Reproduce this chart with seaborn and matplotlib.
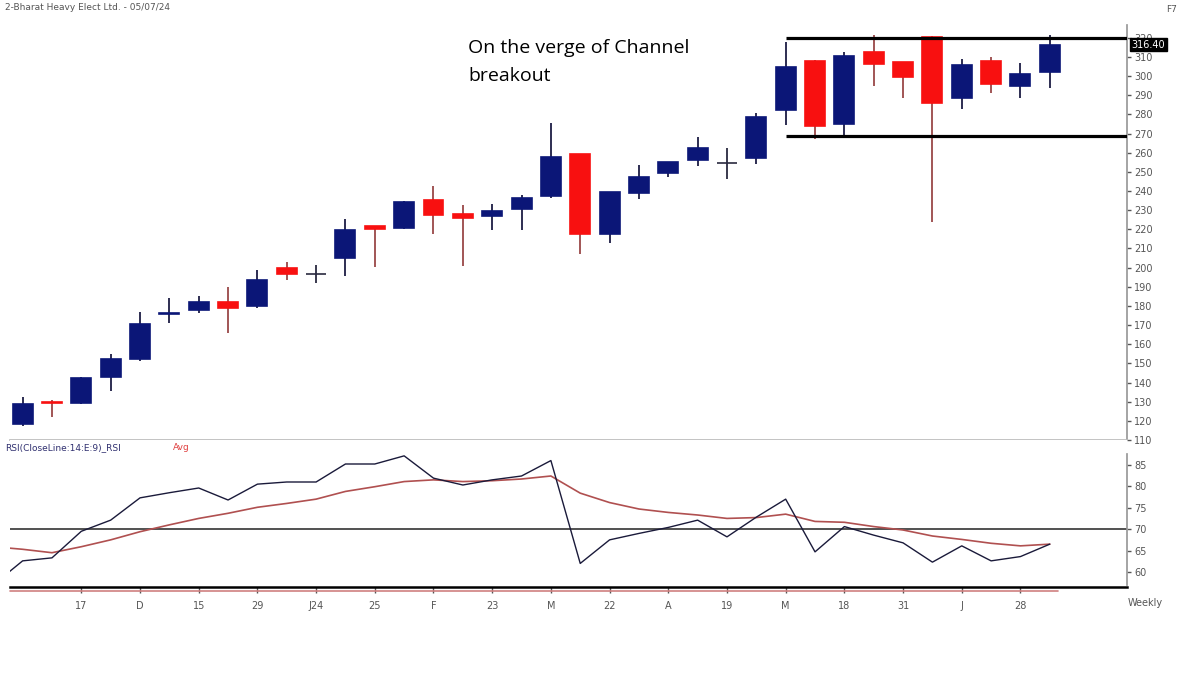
import numpy as np
import pandas as pd
import seaborn as sns
import matplotlib.pyplot as plt

# weekly OHLC, BHEL, Nov 2023 - 05/07/24
opens = [118.4, 130.0, 129.3, 142.7, 152.3, 175.8, 177.9, 181.9, 180.0, 199.8,
         196.5, 204.9, 221.7, 220.9, 235.3, 227.9, 227.1, 230.5, 237.4, 259.4,
         217.6, 239.1, 249.6, 256.2, 254.5, 257.4, 282.3, 308.1, 275.0, 312.5,
         307.2, 320.6, 288.8, 308.1, 294.9, 302.3]
highs = [132.5, 130.9, 143.0, 155.0, 176.7, 184.2, 185.4, 190.0, 198.8, 203.0,
         201.4, 225.4, 221.7, 235.0, 242.6, 232.7, 233.1, 237.9, 275.4, 259.4,
         239.5, 253.6, 255.2, 268.4, 262.6, 280.9, 318.0, 308.4, 312.5, 321.5,
         307.4, 321.0, 308.8, 310.2, 307.0, 321.5]
lows = [117.3, 122.0, 129.0, 135.6, 151.3, 171.0, 176.2, 165.7, 179.0, 193.6,
        191.8, 195.8, 200.5, 220.0, 217.4, 201.0, 219.7, 219.7, 236.5, 207.1,
        213.0, 235.7, 247.2, 253.1, 246.1, 254.1, 274.5, 267.2, 269.3, 295.0,
        288.8, 224.0, 282.7, 291.4, 288.8, 293.6]
closes = [128.8, 129.5, 142.4, 152.5, 170.6, 176.5, 181.9, 179.0, 193.6, 196.7,
          196.5, 219.7, 220.0, 234.1, 227.5, 226.1, 229.6, 236.2, 258.0, 217.4,
          239.3, 247.5, 255.0, 262.6, 254.5, 278.8, 304.9, 274.1, 310.5, 306.2,
          299.4, 285.8, 305.8, 295.9, 301.0, 316.4]

# RSI(14) and its 9-period average, first value is the week before the window
rsi = [57.0, 62.6, 63.3, 69.5, 72.1, 77.3, 78.5, 79.6, 76.8, 80.5, 81.0, 81.0,
       85.2, 85.2, 87.1, 81.9, 80.3, 81.5, 82.4, 86.0, 62.0, 67.5, 69.0, 70.4,
       72.1, 68.2, 72.8, 77.0, 64.7, 70.6, 68.6, 66.8, 62.3, 66.1, 62.6, 63.6, 66.5]
rsi_avg = [65.9, 65.3, 64.5, 65.9, 67.5, 69.4, 71.0, 72.5, 73.7, 75.1, 76.0, 77.0,
           78.8, 79.9, 81.1, 81.5, 81.1, 81.3, 81.7, 82.4, 78.4, 76.2, 74.7, 73.9,
           73.3, 72.5, 72.7, 73.5, 71.8, 71.6, 70.6, 69.8, 68.4, 67.6, 66.7, 66.1, 66.5]

week_labels = ["17", "D", "15", "29", "J24", "25", "F", "23", "M", "22", "A",
               "19", "M", "18", "31", "J", "28"]
label_pos = list(range(2, 36, 2))

channel_levels = [319.8, 268.8]
channel_start = 26
last_close = 316.40

W, H = 1198, 675
sns.set_theme(style="white")
plt.rcParams['font.family'] = ['DejaVu Sans']

df = pd.DataFrame({"o": opens, "h": highs, "l": lows, "c": closes})
df["idx"] = np.arange(len(df))
navy, red = "#0b1677", "#f81010"
df["body"] = np.where(df.c > df.o, navy, np.where(df.c < df.o, red, "#2a2a40"))
df["wick"] = np.where(df.c > df.o, "#1c1c44", np.where(df.c < df.o, "#9a4848", "#2a2a40"))

rsi_df = pd.DataFrame({"idx": np.arange(-1, len(rsi) - 1), "rsi": rsi, "avg": rsi_avg})

fig = plt.figure(figsize=(W / 100, H / 100), dpi=100)
fig.patch.set_facecolor("white")
ax_p = fig.add_axes([10 / W, 1 - 440 / H, (1127 - 10) / W, (440 - 25) / H])
ax_r = fig.add_axes([10 / W, 1 - 587 / H, (1127 - 10) / W, (587 - 440) / H])

xmin, xmax = -0.43, 37.63

# candles
ax_p.vlines(df.idx, df.l, df.h, colors=df.wick, linewidth=1.3, zorder=2)
ax_p.bar(df.idx, (df.c - df.o).abs(), bottom=df[["o", "c"]].min(axis=1), width=0.68,
         color=df.body, edgecolor=df.body, linewidth=1.2, zorder=3)
ax_p.hlines(channel_levels, channel_start, xmax, colors="black", linewidth=2.3, zorder=4)

ax_p.set_xlim(xmin, xmax)
ax_p.set_ylim(110, 326.7)
ax_p.set_xticks([])
ax_p.yaxis.tick_right()
ax_p.set_yticks(np.arange(110, 321, 10))
ax_p.tick_params(axis="y", direction="out", length=3, width=1, colors="#555555",
                 labelsize=7, pad=2, right=True)
for s in ["top", "left"]:
    ax_p.spines[s].set_visible(False)
ax_p.spines["right"].set_color("#999999")
ax_p.spines["bottom"].set_color("#bbbbbb")
ax_p.text(1.004, last_close, "316.40", transform=ax_p.get_yaxis_transform(),
          ha="left", va="center", fontsize=7, color="white", zorder=10, clip_on=False,
          bbox=dict(boxstyle="square,pad=0.15", facecolor="black", edgecolor="black"))

# RSI panel
sns.lineplot(data=rsi_df, x="idx", y="avg", ax=ax_r, color="#b05050", linewidth=1.2)
sns.lineplot(data=rsi_df, x="idx", y="rsi", ax=ax_r, color="#1a1a3a", linewidth=1.0)
ax_r.axhline(70, color="#333333", linewidth=1.2, zorder=0)
ax_r.set_xlim(xmin, xmax)
ax_r.set_ylim(56.5, 90.8)
ax_r.set_xlabel("")
ax_r.set_ylabel("")
ax_r.yaxis.tick_right()
ax_r.set_yticks([60, 65, 70, 75, 80, 85])
ax_r.tick_params(axis="y", direction="out", length=3, width=1, colors="#555555",
                 labelsize=7, pad=2, right=True)
ax_r.set_xticks(label_pos)
ax_r.set_xticklabels(week_labels)
ax_r.tick_params(axis="x", direction="out", length=4, width=1, colors="#555555",
                 labelsize=7, pad=6, bottom=True)
for s in ["top", "left"]:
    ax_r.spines[s].set_visible(False)
ax_r.spines["right"].set_color("#999999")
ax_r.spines["right"].set_bounds(57, 87.5)
ax_r.spines["bottom"].set_color("black")
ax_r.spines["bottom"].set_linewidth(1.8)
ax_r.plot([0, 0.938], [-0.025, -0.025], transform=ax_r.transAxes, color="#d08080",
          linewidth=1.2, clip_on=False)

# texts
fig.text(5 / W, 1 - 8 / H, "2-Bharat Heavy Elect Ltd. - 05/07/24", fontsize=6.5,
         color="#555555", va="center")
fig.text(1166 / W, 1 - 10 / H, "F7", fontsize=6.5, color="#555555", va="center")
fig.text(468 / W, 1 - 48 / H, "On the verge of Channel", fontsize=14,
         family="Open Sans", color="black", va="center")
fig.text(468 / W, 1 - 76 / H, "breakout", fontsize=14,
         family="Open Sans", color="black", va="center")
fig.text(5 / W, 1 - 448 / H, "RSI(CloseLine:14:E:9)_RSI", fontsize=6.5,
         color="#303070", va="center")
fig.text(173 / W, 1 - 448 / H, "Avg", fontsize=6.5, color="#e04040", va="center")
fig.text(1128 / W, 1 - 603 / H, "Weekly", fontsize=7, color="#555555", va="center")

fig.savefig("out.png", dpi=100, facecolor="white")
